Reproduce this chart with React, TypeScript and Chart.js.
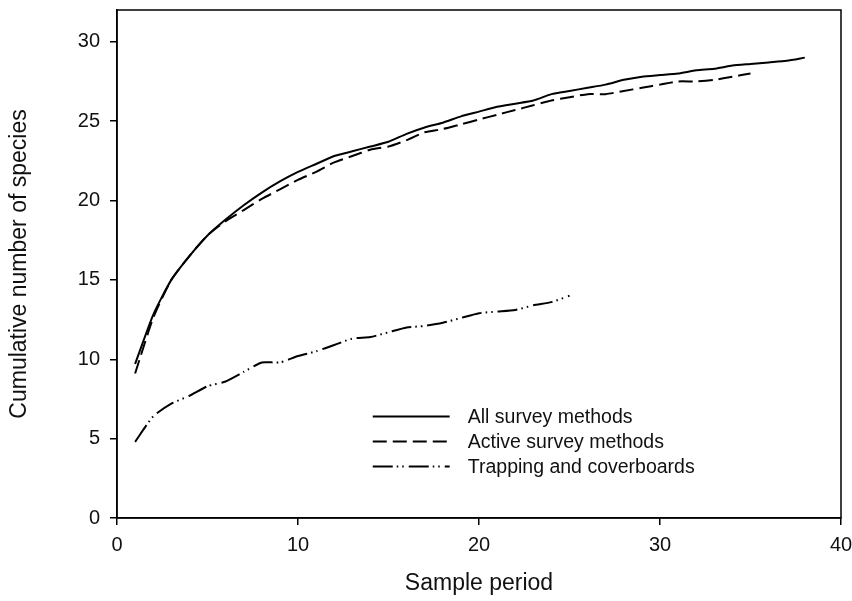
import React, { useEffect, useRef } from "react";
import { Chart, registerables } from "chart.js";

Chart.register(...registerables);

const allSurvey = [9.7, 12.8, 15.0, 16.5, 17.8, 18.8, 19.7, 20.5, 21.2, 21.8, 22.3, 22.8, 23.1, 23.4, 23.7, 24.2, 24.6, 24.9, 25.3, 25.6, 25.9, 26.1, 26.3, 26.7, 26.9, 27.1, 27.3, 27.6, 27.8, 27.9, 28.0, 28.2, 28.3, 28.5, 28.6, 28.7, 28.8, 29.0];
const activeSurvey = [9.1, 12.6, 15.0, 16.5, 17.8, 18.7, 19.4, 20.1, 20.7, 21.3, 21.8, 22.4, 22.8, 23.2, 23.4, 23.8, 24.3, 24.5, 24.8, 25.1, 25.4, 25.7, 26.0, 26.3, 26.5, 26.7, 26.7, 26.9, 27.1, 27.3, 27.5, 27.5, 27.6, 27.8, 28.0];
const trapping = [4.8, 6.4, 7.2, 7.7, 8.3, 8.6, 9.2, 9.8, 9.8, 10.2, 10.5, 10.9, 11.3, 11.4, 11.7, 12.0, 12.1, 12.3, 12.6, 12.9, 13.0, 13.1, 13.4, 13.6, 14.0];
const seriesNames = ["All survey methods", "Active survey methods", "Trapping and coverboards"];
const xTitle = "Sample period";
const yTitle = "Cumulative number of species";

const toPoints = (arr: number[]) => arr.map((v, i) => ({ x: i + 1, y: v }));

const FONT = "'Liberation Sans', Arial, sans-serif";

export default function App() {
  const ref = useRef<HTMLCanvasElement | null>(null);
  useEffect(() => {
    document.body.style.margin = "0";
    const ctx = ref.current!.getContext("2d")!;
    const boxPlugin = {
      id: "box",
      afterDatasetsDraw(chart: any) {
        const { ctx, chartArea: a } = chart;
        ctx.save();
        ctx.strokeStyle = "#000";
        ctx.lineWidth = 1.5;
        ctx.strokeRect(a.left, a.top, a.right - a.left, a.bottom - a.top);
        ctx.restore();
      },
    };
    const legendPlugin = {
      id: "customLegend",
      afterDatasetsDraw(chart: any) {
        const { ctx } = chart;
        const xs = chart.scales.x;
        const ys = chart.scales.y;
        const x0 = xs.getPixelForValue(14.13);
        const x1 = xs.getPixelForValue(18.38);
        const tx = xs.getPixelForValue(19.38);
        ctx.save();
        chart.data.datasets.forEach((ds: any, i: number) => {
          const y = ys.getPixelForValue(6.4 - i * 1.58);
          ctx.strokeStyle = "#000";
          ctx.lineWidth = 2;
          ctx.setLineDash(ds.borderDash || []);
          ctx.beginPath();
          ctx.moveTo(x0, y);
          ctx.lineTo(x1, y);
          ctx.stroke();
          ctx.setLineDash([]);
          ctx.fillStyle = "#111";
          ctx.font = `19.5px ${FONT}`;
          ctx.textBaseline = "middle";
          ctx.textAlign = "left";
          ctx.fillText(ds.label, tx, y + 1);
        });
        ctx.restore();
      },
    };
    const chart = new Chart(ctx, {
      type: "line",
      data: {
        datasets: [
          { label: seriesNames[0], data: toPoints(allSurvey), borderColor: "#000", borderWidth: 2, borderDash: [], pointRadius: 0, tension: 0.2, fill: false },
          { label: seriesNames[1], data: toPoints(activeSurvey), borderColor: "#000", borderWidth: 2, borderDash: [14, 6], pointRadius: 0, tension: 0.2, fill: false },
          { label: seriesNames[2], data: toPoints(trapping), borderColor: "#000", borderWidth: 2, borderDash: [20, 4, 1.5, 4, 1.5, 5], pointRadius: 0, tension: 0.2, fill: false },
        ],
      },
      options: {
        animation: false,
        responsive: false,
        maintainAspectRatio: false,
        layout: { padding: { top: 10, right: 11, left: 0, bottom: 0 } },
        plugins: { legend: { display: false }, tooltip: { enabled: false } },
        scales: {
          x: {
            type: "linear",
            min: 0,
            max: 40,
            ticks: { stepSize: 10, color: "#111", font: { family: FONT, size: 20 }, padding: 8, maxRotation: 0 },
            grid: { drawOnChartArea: false, drawTicks: true, tickLength: 7, color: "#000", lineWidth: 1.5 },
            border: { display: true, color: "#000", width: 1.5 },
            title: { display: true, text: xTitle, color: "#111", font: { family: FONT, size: 23 }, padding: { top: 8, bottom: 4 } },
            afterFit(scale: any) { scale.height = 83; scale.paddingLeft = 0; scale.paddingRight = 0; },
          },
          y: {
            type: "linear",
            min: 0,
            max: 32,
            ticks: { stepSize: 5, color: "#111", font: { family: FONT, size: 20 }, padding: 10 },
            afterBuildTicks(scale: any) { scale.ticks = scale.ticks.filter((t: any) => t.value % 5 === 0); },
            grid: { drawOnChartArea: false, drawTicks: true, tickLength: 7, color: "#000", lineWidth: 1.5 },
            border: { display: true, color: "#000", width: 1.5 },
            title: { display: true, text: yTitle, color: "#111", font: { family: FONT, size: 23 }, padding: { top: 6, bottom: 8 } },
            afterFit(scale: any) { scale.width = 117; scale.paddingTop = 0; scale.paddingBottom = 0; },
          },
        },
      },
      plugins: [boxPlugin, legendPlugin],
    });
    return () => chart.destroy();
  }, []);
  return (
    <div style={{ position: "absolute", left: 0, top: 0, width: 852, height: 601, background: "#fff" }}>
      <canvas ref={ref} width={852} height={601} style={{ width: 852, height: 601 }} />
    </div>
  );
}
